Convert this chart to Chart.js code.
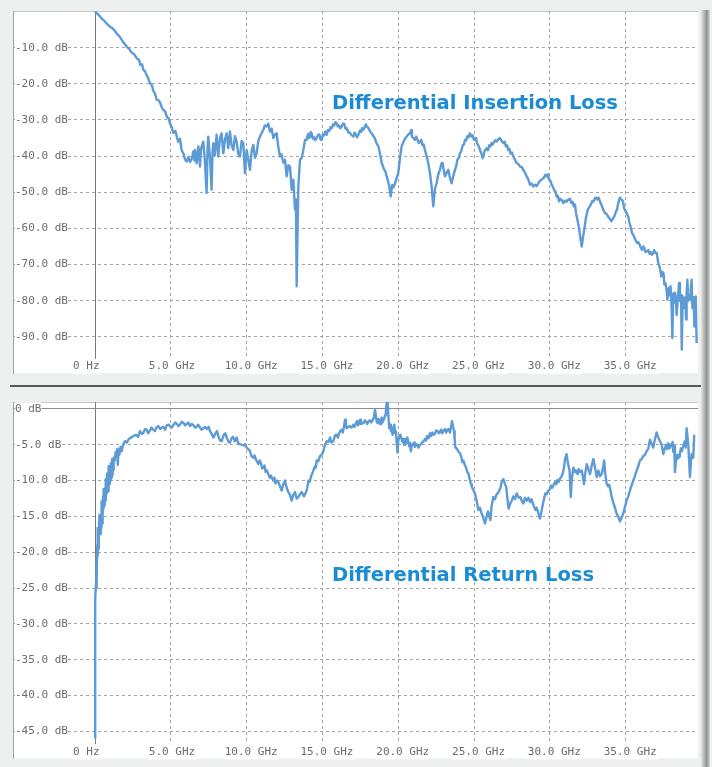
<!DOCTYPE html>
<html>
<head>
<meta charset="utf-8">
<script src="https://cdn.jsdelivr.net/npm/chart.js@4.4.1/dist/chart.umd.min.js"></script>
<style>
  html, body { margin:0; padding:0; }
  body { width:712px; height:767px; overflow:hidden; position:relative; background:#eeefef; }
  canvas { position:absolute; left:0; }
  #c1 { top:0; }
  #c2 { top:388px; }
  #sep { position:absolute; left:10px; top:385px; width:695px; height:2px; background:#5a5a5a; }
  #shade { position:absolute; left:701px; top:10px; width:9px; height:757px;
           background:linear-gradient(to right,#e2e3e3,#a9abab 45%,#8d8f8f 65%,#d9dada); }
  .title { position:absolute; left:332px; font:bold 19.5px "DejaVu Sans"; color:#1b8bd3; line-height:24px; white-space:nowrap; }
</style>
</head>
<body>
<canvas id="c1" width="712" height="386"></canvas>
<div id="sep"></div>
<canvas id="c2" width="712" height="379"></canvas>
<div id="shade"></div>
<div class="title" style="top:91px">Differential Insertion Loss</div>
<div class="title" style="top:563px">Differential Return Loss</div>
<script>
// ---- tick values & labels ----
const xTickValues = [0, 5, 10, 15, 20, 25, 30, 35];
const xTickLabels = ['0 Hz', '5.0 GHz', '10.0 GHz', '15.0 GHz', '20.0 GHz', '25.0 GHz', '30.0 GHz', '35.0 GHz'];
const ilTickValues = [-10, -20, -30, -40, -50, -60, -70, -80, -90];
const ilTickLabels = ['-10.0 dB', '-20.0 dB', '-30.0 dB', '-40.0 dB', '-50.0 dB', '-60.0 dB', '-70.0 dB', '-80.0 dB', '-90.0 dB'];
const rlTickValues = [0, -5, -10, -15, -20, -25, -30, -35, -40, -45];
const rlTickLabels = ['0 dB', '-5.0 dB', '-10.0 dB', '-15.0 dB', '-20.0 dB', '-25.0 dB', '-30.0 dB', '-35.0 dB', '-40.0 dB', '-45.0 dB'];

// ---- Differential Insertion Loss (GHz, dB) ----
const ilFreq = [0,0.3,0.45,0.6,0.8,1.0,1.15,1.3,1.45,1.6,1.85,2.09,2.25,2.4,2.6,2.75,2.9,3.0,3.1,3.19,3.3,3.4,3.5,3.63,3.75,3.85,3.95,4.07,4.2,4.3,4.4,4.5,4.62,4.75,4.85,4.95,5.05,5.16,5.3,5.4,5.49,5.6,5.71,5.85,5.94,6.05,6.15,6.27,6.38,6.48,6.55,6.6,6.7,6.82,6.92,7.0,7.14,7.25,7.36,7.42,7.47,7.58,7.69,7.75,7.8,7.9,8.02,8.13,8.24,8.35,8.46,8.57,8.68,8.79,8.9,9.0,9.12,9.23,9.34,9.45,9.56,9.67,9.78,9.89,10.0,10.11,10.22,10.33,10.44,10.55,10.66,10.77,10.88,11.0,11.1,11.2,11.32,11.43,11.54,11.65,11.76,11.87,11.98,12.09,12.2,12.3,12.42,12.53,12.64,12.75,12.86,12.97,13.08,13.19,13.25,13.3,13.36,13.41,13.52,13.63,13.74,13.85,13.96,14.02,14.07,14.12,14.18,14.23,14.29,14.37,14.45,14.53,14.62,14.7,14.8,14.87,14.95,15.02,15.1,15.19,15.28,15.36,15.45,15.53,15.61,15.7,15.78,15.86,15.94,16.02,16.1,16.18,16.27,16.36,16.45,16.52,16.6,16.7,16.8,16.92,17.04,17.12,17.2,17.28,17.37,17.46,17.55,17.62,17.7,17.8,17.86,17.92,18.0,18.1,18.18,18.25,18.35,18.45,18.57,18.69,18.8,18.91,19.05,19.15,19.24,19.33,19.41,19.5,19.6,19.7,19.79,19.9,20.0,20.1,20.22,20.35,20.45,20.55,20.66,20.77,20.85,20.9,21.0,21.1,21.18,21.25,21.35,21.43,21.52,21.6,21.68,21.76,21.87,21.98,22.1,22.2,22.31,22.42,22.53,22.64,22.75,22.85,22.93,23.0,23.08,23.2,23.3,23.41,23.52,23.63,23.74,23.82,23.9,23.98,24.07,24.16,24.25,24.33,24.4,24.48,24.55,24.63,24.73,24.82,24.9,24.98,25.06,25.13,25.2,25.3,25.39,25.5,25.57,25.7,25.83,25.92,26.0,26.08,26.16,26.23,26.3,26.4,26.49,26.6,26.71,26.82,26.93,27.02,27.1,27.18,27.26,27.33,27.4,27.5,27.59,27.7,27.8,27.92,28.03,28.14,28.25,28.36,28.47,28.58,28.69,28.8,28.91,29.02,29.13,29.24,29.35,29.46,29.6,29.7,29.79,29.87,29.95,30.03,30.12,30.2,30.3,30.38,30.45,30.53,30.6,30.68,30.75,30.82,30.89,31.0,31.1,31.2,31.33,31.42,31.5,31.58,31.66,31.73,31.8,31.9,31.99,32.1,32.2,32.3,32.38,32.5,32.64,32.72,32.8,32.9,32.98,33.07,33.15,33.22,33.3,33.4,33.5,33.62,33.75,33.85,33.95,34.05,34.18,34.27,34.35,34.43,34.51,34.62,34.73,34.82,34.9,35.05,35.17,35.25,35.33,35.42,35.5,35.58,35.65,35.75,35.83,35.92,36.0,36.08,36.16,36.23,36.3,36.4,36.49,36.57,36.65,36.73,36.82,36.88,36.95,37.05,37.15,37.26,37.35,37.43,37.5,37.55,37.62,37.7,37.75,37.81,37.86,37.9,37.96,38.03,38.08,38.14,38.2,38.25,38.31,38.36,38.4,38.47,38.52,38.58,38.65,38.7,38.76,38.84,38.88,38.93,38.98,39.02,39.07,39.13,39.2,39.25,39.29,39.35,39.4,39.48,39.53,39.57,39.62,39.68,39.75];
const ilLoss = [0,-1.2,-2.0,-2.5,-3.5,-4.2,-4.6,-5.3,-6.2,-6.8,-8.4,-9.7,-10.3,-11.3,-11.9,-12.9,-13.4,-14.8,-14.6,-16.2,-16.5,-17.6,-18.4,-19.8,-20.4,-22.0,-22.6,-24.4,-24.6,-25.3,-26.5,-27.2,-27.6,-29.3,-29.5,-31.0,-31.8,-33.6,-33.0,-34.8,-36.0,-35.2,-38.3,-39.5,-41.0,-41.5,-40.3,-41.6,-40.8,-38.7,-41.2,-38.3,-42.0,-37.3,-42.9,-37.8,-36.0,-41.5,-50.2,-38.0,-34.6,-40.5,-49.3,-39.0,-36.4,-39.8,-34.1,-40.1,-35.0,-33.7,-39.2,-35.5,-33.7,-37.8,-33.2,-36.8,-38.3,-34.5,-36.0,-39.5,-40.1,-35.8,-36.4,-44.7,-38.3,-41.0,-43.8,-38.5,-36.9,-40.5,-39.2,-35.8,-34.6,-33.5,-32.7,-31.5,-31.8,-31.0,-33.2,-32.4,-35.0,-34.0,-33.7,-37.5,-40.1,-39.5,-41.8,-41.0,-45.6,-42.5,-42.9,-49.3,-46.5,-54.8,-52.0,-76.0,-60.0,-48.4,-41.0,-40.5,-38.3,-35.5,-35.5,-34.2,-33.8,-35.0,-34.6,-33.3,-33.7,-35.2,-34.8,-35.6,-35.0,-34.2,-34.0,-35.4,-35.5,-34.0,-34.3,-33.2,-34.1,-32.8,-33.0,-32.0,-32.3,-31.2,-31.5,-30.6,-30.9,-31.8,-31.5,-32.3,-31.8,-31.0,-31.2,-32.4,-32.3,-33.4,-33.5,-34.2,-34.6,-33.5,-34.0,-34.8,-34.1,-33.0,-33.3,-32.2,-32.7,-32.0,-31.2,-31.8,-32.0,-32.8,-33.4,-33.7,-34.4,-35.0,-36.5,-37.3,-39.5,-41.9,-43.5,-44.2,-45.6,-47.0,-48.4,-51.2,-48.0,-48.6,-47.5,-46.0,-44.7,-41.0,-37.3,-36.0,-35.2,-34.6,-34.0,-33.7,-32.8,-34.6,-35.0,-35.5,-34.6,-35.3,-36.4,-36.0,-35.5,-37.0,-36.8,-38.3,-40.0,-41.9,-45.0,-48.4,-53.9,-49.0,-47.5,-45.0,-43.8,-42.0,-41.9,-44.0,-45.6,-44.5,-43.8,-46.0,-47.5,-45.5,-43.8,-42.8,-41.0,-40.6,-39.2,-38.6,-37.0,-36.8,-35.5,-35.7,-34.5,-34.8,-33.7,-34.6,-34.2,-35.4,-35.5,-35.0,-36.5,-37.2,-38.3,-39.5,-40.6,-38.5,-37.8,-38.4,-37.0,-37.3,-36.4,-36.8,-36.2,-35.6,-36.0,-35.3,-35.0,-35.8,-36.4,-36.0,-37.3,-37.0,-38.3,-38.0,-39.3,-39.0,-40.1,-41.0,-41.9,-42.2,-42.9,-43.0,-43.8,-44.6,-45.6,-46.5,-47.9,-47.6,-48.4,-47.9,-48.3,-47.5,-46.8,-46.5,-46.0,-45.2,-45.6,-45.0,-46.5,-46.8,-47.9,-48.5,-49.5,-50.0,-51.2,-51.0,-52.5,-51.8,-52.0,-52.4,-53.0,-52.3,-52.6,-52.1,-51.8,-53.0,-52.6,-53.9,-53.4,-56.0,-57.2,-59.4,-62.0,-65.0,-62.0,-59.4,-57.0,-54.8,-53.8,-53.3,-52.4,-52.5,-51.6,-51.5,-52.0,-51.5,-52.5,-53.5,-54.6,-55.7,-56.0,-56.8,-57.3,-58.0,-57.2,-56.5,-55.4,-54.8,-53.0,-51.5,-52.0,-52.5,-54.5,-55.7,-56.8,-58.5,-59.6,-61.3,-61.8,-62.5,-63.2,-64.0,-63.8,-64.5,-65.4,-65.9,-65.0,-65.4,-66.5,-66.3,-66.0,-67.0,-66.5,-67.3,-66.8,-66.0,-66.7,-66.8,-69.6,-71.0,-73.3,-72.0,-72.5,-75.5,-75.1,-77.0,-79.7,-77.0,-76.5,-78.5,-76.0,-82.0,-90.3,-78.0,-80.5,-77.8,-79.0,-84.0,-81.5,-78.0,-75.1,-80.0,-78.5,-93.5,-78.8,-80.5,-82.0,-79.0,-85.2,-78.0,-74.2,-80.0,-78.5,-79.7,-77.0,-74.2,-82.0,-79.0,-87.1,-80.0,-78.8,-91.7];

// ---- Differential Return Loss (GHz, dB) ----
const rlFreq = [0,0.01,0.066,0.09,0.11,0.13,0.15,0.17,0.18,0.21,0.25,0.29,0.33,0.37,0.4,0.42,0.44,0.47,0.5,0.53,0.55,0.58,0.6,0.63,0.66,0.69,0.72,0.75,0.77,0.8,0.83,0.86,0.88,0.91,0.94,0.97,0.99,1.02,1.05,1.08,1.1,1.13,1.16,1.19,1.21,1.25,1.3,1.36,1.43,1.47,1.5,1.55,1.6,1.68,1.76,1.85,1.98,2.1,2.2,2.35,2.53,2.7,2.85,2.97,3.1,3.2,3.3,3.41,3.5,3.6,3.72,3.84,3.95,4.05,4.17,4.29,4.4,4.5,4.62,4.73,4.85,4.95,5.05,5.16,5.28,5.4,5.5,5.6,5.72,5.85,5.95,6.05,6.15,6.27,6.38,6.5,6.6,6.7,6.8,6.92,7.03,7.14,7.25,7.37,7.5,7.58,7.7,7.8,7.95,8.05,8.13,8.25,8.35,8.5,8.6,8.69,8.8,8.9,9.0,9.1,9.22,9.34,9.45,9.56,9.68,9.8,9.9,10.0,10.1,10.2,10.32,10.44,10.52,10.6,10.68,10.77,10.86,10.95,11.02,11.1,11.18,11.25,11.34,11.43,11.52,11.6,11.68,11.76,11.83,11.9,12.0,12.09,12.2,12.31,12.42,12.53,12.64,12.75,12.86,12.97,13.08,13.19,13.3,13.41,13.52,13.63,13.78,13.92,14.0,14.07,14.16,14.25,14.33,14.4,14.5,14.56,14.62,14.72,14.84,14.95,15.06,15.17,15.28,15.4,15.5,15.6,15.72,15.83,15.94,16.02,16.1,16.19,16.27,16.34,16.4,16.49,16.55,16.6,16.7,16.8,16.92,17.04,17.12,17.2,17.28,17.35,17.42,17.48,17.54,17.6,17.7,17.81,17.88,17.95,18.05,18.14,18.22,18.3,18.38,18.47,18.58,18.63,18.69,18.75,18.8,18.86,18.91,18.96,19.02,19.08,19.13,19.18,19.24,19.3,19.35,19.4,19.46,19.52,19.57,19.62,19.68,19.74,19.79,19.85,19.9,19.95,20.0,20.07,20.14,20.22,20.28,20.33,20.38,20.44,20.5,20.55,20.6,20.66,20.72,20.77,20.83,20.88,20.94,21.0,21.05,21.1,21.18,21.25,21.34,21.43,21.52,21.6,21.68,21.76,21.83,21.9,22.0,22.09,22.17,22.25,22.33,22.42,22.5,22.6,22.68,22.75,22.82,22.9,23.0,23.08,23.16,23.25,23.33,23.41,23.48,23.55,23.62,23.68,23.72,23.77,23.85,23.95,24.07,24.15,24.22,24.3,24.4,24.48,24.55,24.63,24.73,24.8,24.85,24.95,25.06,25.17,25.28,25.39,25.5,25.61,25.72,25.83,25.92,26.0,26.08,26.16,26.27,26.38,26.46,26.54,26.65,26.75,26.82,26.93,27.04,27.12,27.2,27.28,27.37,27.48,27.59,27.7,27.81,27.95,28.05,28.14,28.25,28.36,28.47,28.58,28.7,28.8,28.88,28.95,29.05,29.13,29.25,29.35,29.43,29.5,29.61,29.7,29.79,29.9,30.01,30.08,30.15,30.25,30.34,30.42,30.5,30.58,30.67,30.75,30.85,30.93,31.0,31.1,31.21,31.3,31.33,31.38,31.44,31.55,31.66,31.72,31.77,31.84,31.9,32.0,32.1,32.18,32.25,32.34,32.43,32.55,32.65,32.75,32.87,32.98,33.09,33.2,33.3,33.42,33.52,33.58,33.65,33.75,33.85,33.92,34.0,34.07,34.2,34.3,34.4,34.5,34.62,34.73,34.84,34.95,35.06,35.17,35.28,35.4,35.5,35.6,35.72,35.83,35.94,36.05,36.16,36.27,36.38,36.5,36.6,36.7,36.82,36.93,37.04,37.15,37.26,37.37,37.48,37.57,37.66,37.74,37.81,37.9,37.96,38.03,38.09,38.14,38.2,38.25,38.3,38.36,38.42,38.47,38.52,38.58,38.64,38.7,38.8,38.9,38.96,39.02,39.08,39.13,39.19,39.24,39.3,39.35,39.4,39.46,39.52,39.57,39.62,39.68,39.75];
const rlLoss = [-46,-26.5,-24.2,-25,-21.2,-23,-19,-20.5,-16.6,-19.5,-18,-14.8,-15.7,-17.5,-16.5,-13.2,-12.9,-16,-15,-12.2,-13.9,-11.2,-11.5,-13.5,-11.1,-9.8,-12.8,-10.2,-11.8,-9.0,-9.5,-11.5,-8.8,-8.0,-10.5,-8.3,-10,-7.6,-8.2,-9.6,-7.9,-7.0,-9.2,-7.4,-8.5,-6.8,-7.2,-6.0,-6.6,-5.6,-7.8,-5.8,-6.4,-5.3,-5.9,-5.0,-4.5,-4.7,-4.3,-4.0,-3.8,-3.6,-3.9,-3.1,-3.5,-3.3,-2.8,-2.9,-3.4,-3.1,-2.6,-2.9,-3.1,-2.6,-2.4,-2.8,-2.6,-2.5,-2.9,-2.3,-2.2,-2.4,-2.6,-2.3,-1.9,-2.1,-2.4,-2.2,-1.8,-2.0,-2.3,-2.1,-1.9,-2.4,-2.1,-2.3,-2.6,-2.5,-2.2,-2.6,-2.9,-2.7,-2.5,-2.8,-2.5,-3.1,-3.5,-4.0,-3.4,-3.1,-3.8,-4.4,-4.5,-3.6,-3.4,-4.0,-4.6,-4.7,-4.1,-3.9,-4.5,-4.0,-4.8,-4.9,-5.0,-5.1,-4.9,-5.4,-5.6,-5.8,-6.6,-6.8,-6.5,-7.0,-7.3,-7.7,-7.2,-7.6,-8.3,-8.2,-7.9,-8.8,-8.6,-9.1,-9.6,-9.3,-9.7,-10.0,-9.6,-10.4,-10.0,-10.2,-10.8,-11.4,-10.5,-10.0,-11.0,-11.6,-12.0,-12.8,-12.0,-11.6,-12.5,-12.3,-11.9,-11.6,-12.2,-11.6,-11.0,-10.0,-10.2,-9.4,-9.0,-8.6,-8.0,-8.2,-7.2,-7.3,-6.6,-6.4,-5.9,-5.0,-4.5,-4.6,-4.0,-4.7,-4.5,-3.7,-3.6,-4.0,-3.4,-3.0,-2.9,-3.3,-2.7,-1.5,-2.4,-2.7,-2.5,-2.4,-2.6,-2.2,-2.5,-2.0,-1.7,-2.3,-1.9,-1.5,-2.1,-2.0,-2.0,-1.6,-1.8,-2.1,-1.7,-1.6,-1.9,-1.6,-1.3,-0.1,-1.8,-2.0,-1.4,-1.6,-2.1,-1.5,-1.2,-1.9,-1.6,-1.3,-0.9,-0.4,0.9,1.0,-1.0,-2.7,-2.2,-3.1,-2.6,-3.6,-3.0,-2.2,-3.4,-3.1,-4.8,-6.1,-4.5,-3.8,-3.6,-4.2,-4.6,-4.2,-5.0,-4.2,-4.8,-4.2,-4.0,-4.6,-5.2,-4.7,-5.9,-5.3,-4.9,-5.0,-4.7,-5.3,-4.9,-5.0,-5.4,-5.0,-4.9,-4.6,-4.5,-4.2,-4.4,-3.8,-4.1,-3.4,-3.8,-3.3,-3.6,-3.5,-3.0,-3.1,-3.4,-3.2,-2.9,-3.4,-3.0,-2.8,-3.3,-2.9,-2.8,-3.3,-2.5,-1.7,-2.5,-3.1,-4.3,-5.4,-5.5,-5.9,-6.2,-6.6,-7.4,-7.2,-7.9,-8.2,-8.8,-9.0,-10.0,-10.5,-10.9,-11.3,-11.8,-12.8,-14.1,-13.8,-14.6,-15.2,-16.0,-15.0,-14.3,-15.0,-15.5,-13.5,-12.3,-12.6,-12.0,-11.8,-11.5,-10.9,-10.2,-9.8,-10.5,-10.9,-12.5,-13.9,-13.3,-12.8,-12.2,-12.6,-11.8,-12.4,-12.3,-12.8,-13.2,-12.4,-12.8,-12.4,-13.0,-12.6,-13.2,-13.6,-14.1,-13.8,-14.6,-15.3,-14.5,-13.7,-12.6,-11.8,-11.9,-11.4,-11.2,-10.7,-11.0,-10.6,-10.2,-10.5,-9.9,-10.2,-9.7,-9.5,-9.0,-8.2,-7.0,-6.3,-7.8,-8.6,-10.0,-12.3,-10.0,-8.2,-8.8,-8.6,-8.9,-9.1,-8.4,-8.8,-8.6,-9.5,-10.5,-8.9,-7.7,-8.5,-9.1,-8.0,-7.0,-8.2,-9.5,-8.6,-9.4,-9.1,-8.0,-7.2,-9.0,-10.5,-10.8,-10.6,-11.4,-12.2,-13.2,-13.8,-14.6,-15.0,-15.7,-15.2,-14.6,-13.7,-12.8,-12.2,-11.4,-10.6,-10.0,-9.4,-8.6,-8.0,-7.2,-7.0,-6.6,-6.4,-5.9,-5.5,-4.3,-4.8,-5.4,-4.2,-3.3,-4.0,-4.5,-5.0,-6.3,-5.6,-5.0,-5.6,-4.8,-5.5,-5.0,-5.2,-4.6,-6.0,-5.2,-8.8,-7.5,-7.0,-6.4,-6.9,-6.6,-6.2,-5.5,-5.9,-5.2,-4.5,-5.4,-2.7,-4.0,-5.0,-7.5,-9.5,-7.5,-6.3,-6.6,-6.8,-3.6];

const LINE_COLOR = '#5d9bd6';
const TICK_FONT = { family: 'DejaVu Sans Mono', size: 11 };
const TICK_COLOR = '#6c6c6c';
const GRID_COLOR = '#a3a3a3';

const panelBg = {
  id: 'panelBg',
  beforeDraw(chart) {
    const { ctx, chartArea: a } = chart;
    ctx.save();
    ctx.fillStyle = '#ffffff';
    ctx.fillRect(a.left, a.top, a.right - a.left, a.bottom - a.top);
    ctx.strokeStyle = '#c4c5c5';
    ctx.lineWidth = 1;
    ctx.beginPath();
    ctx.moveTo(a.left, a.top + 0.5);
    ctx.lineTo(a.right, a.top + 0.5);
    ctx.stroke();
    ctx.restore();
  }
};

function makeChart(id, freq, vals, yMin, yMax, yTicks, yLabels, pad, solidY) {
  const pts = freq.map((f, i) => ({ x: f, y: vals[i] }));
  return new Chart(document.getElementById(id), {
    type: 'line',
    data: { datasets: [{ data: pts, borderColor: LINE_COLOR, borderWidth: 2.4, pointRadius: 0, tension: 0, fill: false, borderJoinStyle: 'round' }] },
    plugins: [panelBg],
    options: {
      responsive: false,
      devicePixelRatio: 1,
      animation: false,
      events: [],
      layout: { padding: pad, autoPadding: false },
      plugins: { legend: { display: false }, tooltip: { enabled: false }, title: { display: false } },
      scales: {
        x: {
          type: 'linear', min: -5.41, max: 39.77,
          afterBuildTicks: s => { s.ticks = xTickValues.map(v => ({ value: v })); },
          afterFit: s => { s.height = 0; },
          ticks: {
            autoSkip: false, maxRotation: 0, minRotation: 0, align: 'start', labelOffset: -22,
            mirror: true, padding: 0, font: TICK_FONT, color: TICK_COLOR,
            callback: (v, i) => xTickLabels[i],
            showLabelBackdrop: true, backdropColor: '#ffffff',
            backdropPadding: { top: 1, bottom: 1, left: 1, right: 1 }
          },
          grid: { drawTicks: false, lineWidth: 1, color: c => (c.tick && c.tick.value === 0) ? '#7a7a7a' : GRID_COLOR },
          border: { display: false, dash: c => (c.tick && c.tick.value === 0) ? [] : [3, 3] }
        },
        y: {
          type: 'linear', min: yMin, max: yMax,
          afterBuildTicks: s => { s.ticks = yTicks.map(v => ({ value: v })); },
          afterFit: s => { s.width = 0; },
          ticks: {
            autoSkip: false, mirror: true, padding: 2, font: TICK_FONT, color: TICK_COLOR,
            callback: (v, i) => yLabels[i],
            showLabelBackdrop: true, backdropColor: '#ffffff',
            backdropPadding: c => {
              const lbl = yLabels[c.index] || '';
              return { top: 0, bottom: 0, left: 0, right: 2 + (8 - lbl.length) * 6.62 };
            }
          },
          grid: { drawTicks: false, lineWidth: 1, color: c => (solidY && c.tick && c.tick.value === 0) ? '#8c8c8c' : GRID_COLOR },
          border: { display: true, color: '#a2a2a2', width: 1,
                    dash: c => (!c.tick || (solidY && c.tick.value === 0)) ? [] : [3, 3] }
        }
      }
    }
  });
}

makeChart('c1', ilFreq, ilLoss, -100, 0.15, ilTickValues, ilTickLabels, { left: 13, top: 11, right: 14, bottom: 13 }, false);
makeChart('c2', rlFreq, rlLoss, -48.76, 0.964, rlTickValues, rlTickLabels, { left: 13, top: 14, right: 14, bottom: 4 }, true);
</script>
</body>
</html>
